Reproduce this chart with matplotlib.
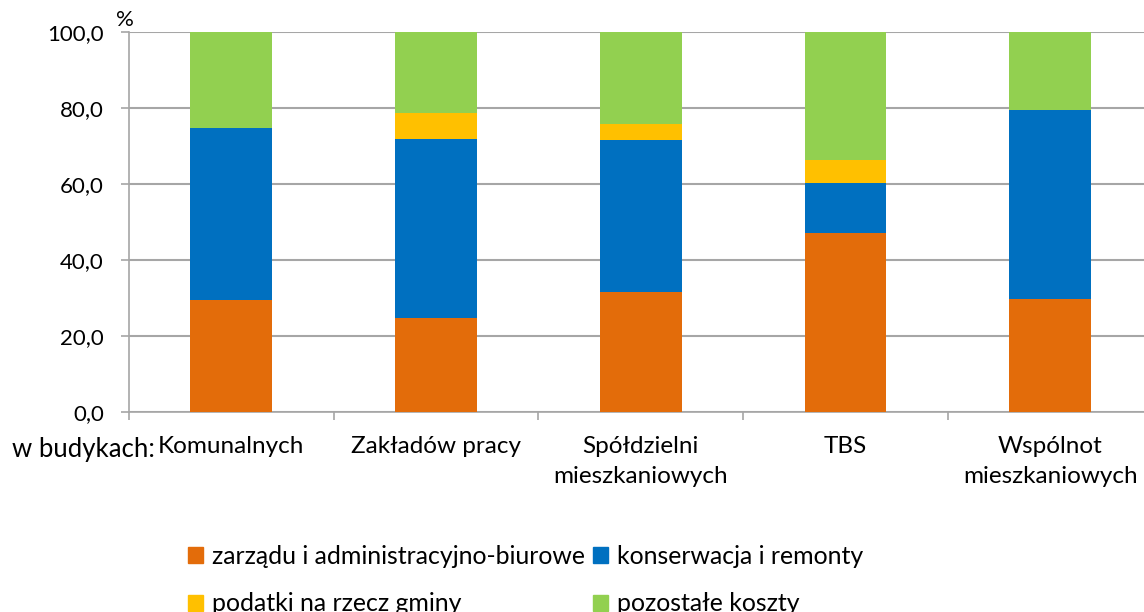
import matplotlib
matplotlib.use("Agg")
import matplotlib.pyplot as plt
from matplotlib.patches import Patch
import numpy as np

categories = ["Komunalnych", "Zakładów pracy", "Spółdzielni\nmieszkaniowych", "TBS", "Wspólnot\nmieszkaniowych"]
zarzadu = [29.6, 24.7, 31.6, 47.2, 29.7]
konserwacja = [45.1, 47.2, 40.1, 13.1, 49.7]
podatki = [0.0, 6.9, 4.1, 6.1, 0.0]
pozostale = [25.3, 21.2, 24.2, 33.6, 20.6]
series_names = ["zarządu i administracyjno-biurowe", "konserwacja i remonty",
                "podatki na rzecz gminy", "pozostałe koszty"]
colors = ["#E36C0A", "#0070C0", "#FFC000", "#92D050"]
yticks = [0, 20, 40, 60, 80, 100]
ytick_labels = ["0,0", "20,0", "40,0", "60,0", "80,0", "100,0"]

plt.rcParams['font.family'] = ['Lato', 'DejaVu Sans']
FS_Y = 16
FS_X = 17.5
FS_L = 17.9

W, H = 1144, 612
fig = plt.figure(figsize=(W/100, H/100), dpi=100)
left_px, right_px, top_px, bot_px = 129, 1144, 32, 412
step_px = 204.7
ax = fig.add_axes([left_px/W, 1-bot_px/H, (right_px-left_px)/W, (bot_px-top_px)/H])

x = np.arange(len(categories))
bottom = np.zeros(len(categories))
for vals, c, name in zip([zarzadu, konserwacja, podatki, pozostale], colors, series_names):
    ax.bar(x, vals, width=0.4, bottom=bottom, color=c, label=name, zorder=3)
    bottom += np.array(vals)

ax.set_yticks(yticks)
ax.set_yticklabels(ytick_labels, fontsize=FS_Y)
ax.yaxis.grid(True, color="#A6A6A6", linewidth=1.5, zorder=0)
ax.set_axisbelow(True)
ax.tick_params(axis='y', length=6, width=1.2, color="#A6A6A6", pad=12)

ax.set_xticks(x)
ax.set_xticklabels(categories, fontsize=FS_X, linespacing=1.55)
ax.tick_params(axis='x', length=0, pad=17)
ax.set_xticks(np.arange(-0.5, 4.6, 1.0), minor=True)
ax.tick_params(axis='x', which='minor', length=6, width=1.2, color="#A6A6A6")

ax.set_xlim(-0.5, -0.5 + (right_px-left_px)/step_px)
ax.set_ylim(0, 100)

for s in ["top", "right"]:
    ax.spines[s].set_visible(False)
for s in ["left", "bottom"]:
    ax.spines[s].set_color("#A6A6A6")
    ax.spines[s].set_linewidth(1.2)

fig.text(155/W, 1-449/H, "w budykach:", fontsize=18.5, va="center", ha="right")
fig.text(125/W, 1-20/H, "%", fontsize=FS_Y, va="center", ha="center")

handles = [Patch(color=c) for c in colors]
order = [0, 2, 1, 3]
leg = fig.legend([handles[i] for i in order], [series_names[i] for i in order],
                 ncol=2, loc="center left", bbox_to_anchor=(188/W, 1-580/H),
                 frameon=False, fontsize=FS_L, handlelength=0.6, handleheight=0.6,
                 handletextpad=0.35, columnspacing=0.35, labelspacing=1.0,
                 borderpad=0, borderaxespad=0)

fig.savefig("out.png", dpi=100)
